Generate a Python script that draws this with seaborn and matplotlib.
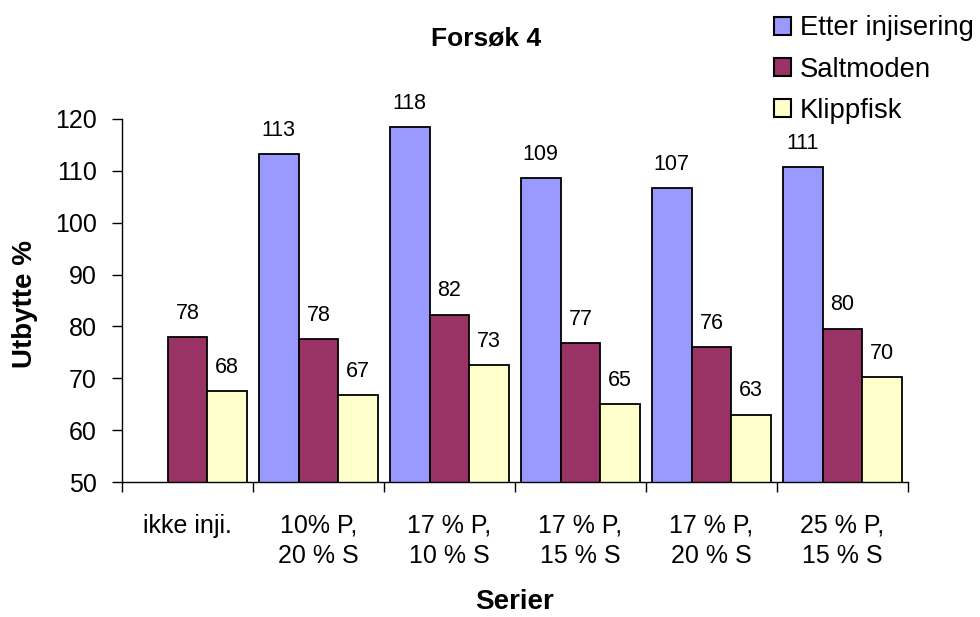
# -*- coding: utf-8 -*-
import numpy as np
import pandas as pd
import matplotlib
matplotlib.use("Agg")
import matplotlib.pyplot as plt
import seaborn as sns
from matplotlib.patches import Patch

# Datos
serier = ["ikke inji.", "10% P,\n20 % S", "17 % P,\n10 % S",
          "17 % P,\n15 % S", "17 % P,\n20 % S", "25 % P,\n15 % S"]
etter_injisering = [np.nan, 113.3, 118.4, 108.6, 106.6, 110.8]
saltmoden = [77.9, 77.6, 82.3, 76.8, 76.0, 79.6]
klippfisk = [67.6, 66.8, 72.6, 65.0, 63.0, 70.2]

grupper = ["Etter injisering", "Saltmoden", "Klippfisk"]
farger = ["#9999FF", "#993366", "#FFFFCC"]

df = pd.DataFrame({
    "Serier": serier * 3,
    "Gruppe": [grupper[0]] * 6 + [grupper[1]] * 6 + [grupper[2]] * 6,
    "Utbytte": etter_injisering + saltmoden + klippfisk,
})

sns.set_style("white")
plt.rcParams["font.family"] = ["Liberation Sans", "DejaVu Sans"]
plt.rcParams["text.color"] = "black"
plt.rcParams["axes.labelcolor"] = "black"
plt.rcParams["xtick.color"] = "black"
plt.rcParams["ytick.color"] = "black"

fig = plt.figure(figsize=(9.8, 6.17), dpi=100)
ax = fig.add_axes([122 / 980, 135 / 617, 786 / 980, 363 / 617])

sns.barplot(data=df, x="Serier", y="Utbytte", hue="Gruppe", order=serier,
            hue_order=grupper, palette=farger, width=0.91, errorbar=None,
            edgecolor="black", linewidth=1.3, saturation=1, legend=False, ax=ax)

# Etiquetas de datos
for cont in ax.containers:
    etiquetas = []
    for b in cont:
        h = b.get_height()
        etiquetas.append("" if np.isnan(h) else f"{h:.0f}")
    ax.bar_label(cont, labels=etiquetas, padding=9.5, fontsize=15.5,
                 color="black")

ax.set_ylim(50, 120)
ax.set_xlim(-0.5, 5.5)
ax.set_yticks(range(50, 121, 10))
ax.tick_params(axis="y", labelsize=18, length=7.2, width=1, pad=10.8,
               direction="out", left=True, color="black")
ax.tick_params(axis="x", which="major", labelsize=18, length=0, pad=23)
ax.set_xticks(np.arange(-0.5, 6, 1), minor=True)
ax.tick_params(axis="x", which="minor", length=7.2, width=1, bottom=True,
               direction="out", color="black")
for t in ax.get_xticklabels():
    t.set_linespacing(1.3)

for s in ["top", "right"]:
    ax.spines[s].set_visible(False)
for s in ["left", "bottom"]:
    ax.spines[s].set_color("black")
    ax.spines[s].set_linewidth(1)

ax.set_xlabel("Serier", fontsize=20, fontweight="bold")
ax.xaxis.set_label_coords(0.5, -0.295)
ax.set_ylabel("Utbytte %", fontsize=20, fontweight="bold")
ax.yaxis.set_label_coords(-0.107, 0.49)

fig.text(486 / 980, 1 - 45.7 / 617, "Forsøk 4", ha="center", va="baseline",
         fontsize=19, fontweight="bold")

handles = [Patch(facecolor=c, edgecolor="black", linewidth=1.5) for c in farger]
fig.legend(handles, grupper, loc="upper left", bbox_to_anchor=(0.79, 0.975),
           frameon=False, fontsize=19.8, handlelength=0.62, handleheight=0.62,
           handletextpad=0.3, labelspacing=0.55, borderpad=0, borderaxespad=0)

fig.savefig("out.png", dpi=100)
